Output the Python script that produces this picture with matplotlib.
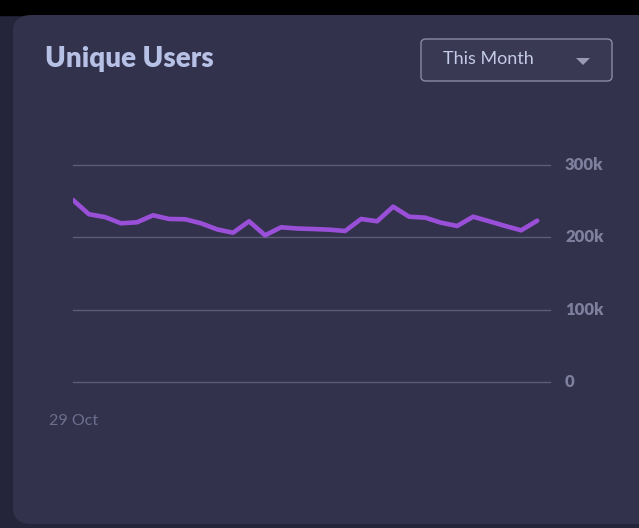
import numpy as np
import matplotlib.pyplot as plt
from matplotlib.patches import FancyBboxPatch, Polygon

# daily unique users, starting 29 Oct
users = [251.6, 231.9, 228.0, 219.4, 220.8, 230.5, 225.4, 225.0, 219.4, 211.0,
         206.4, 222.2, 202.8, 213.9, 212.2, 211.5, 210.6, 208.8, 225.4, 222.2,
         242.4, 228.5, 227.2, 220.2, 215.7, 228.5, 222.2, 215.7, 209.7, 223.0]
users = [u * 1000 for u in users]
y_ticks = [0, 100000, 200000, 300000]
y_labels = ['0', '100k', '200k', '300k']
first_day = '29 Oct'

W, H = 639, 528
fig = plt.figure(figsize=(W / 100, H / 100), dpi=100)
fig.patch.set_facecolor('#24243a')

def fx(px):
	return px / W

def fy(py):
	return 1 - py / H

# top black strip
fig.patches.append(plt.Rectangle((0, fy(15)), 1, 1, transform=fig.transFigure,
	color='#000000', zorder=0))

# card
card = FancyBboxPatch((fx(13), fy(524)), fx(700), fy(15) - fy(524),
	boxstyle='round,pad=0,rounding_size=0.03', transform=fig.transFigure,
	facecolor='#32324c', edgecolor='none', zorder=1)
fig.patches.append(card)

fig.text(fx(45), fy(59), 'Unique Users', fontsize=20, fontweight='heavy',
	family='Lato', color='#b7c1e6', va='center', ha='left', zorder=3)

# dropdown
box = FancyBboxPatch((fx(421), fy(81)), fx(191), fy(39) - fy(81),
	boxstyle='round,pad=0,rounding_size=0.008', transform=fig.transFigure,
	facecolor='#393954', edgecolor='#8a8aa6', linewidth=1.0, zorder=2)
fig.patches.append(box)
fig.text(fx(443), fy(59), 'This Month', fontsize=13, family='Lato',
	color='#c3cbe6', va='center', ha='left', zorder=3)
tri = Polygon([[fx(576), fy(58)], [fx(590), fy(58)], [fx(583), fy(65)]],
	closed=True, transform=fig.transFigure, facecolor='#9a9ab4',
	edgecolor='none', zorder=3)
fig.patches.append(tri)

ax = fig.add_axes([fx(73), fy(382), fx(550) - fx(73), fy(165) - fy(382)])
ax.set_facecolor('none')
ax.set_zorder(2)
x = np.arange(len(users))
ax.plot(x, users, color='#9a4fd8', linewidth=3.3, solid_joinstyle='round',
	solid_capstyle='round', zorder=3)
for t in y_ticks:
	ax.axhline(t, color='#5b5b78', linewidth=1.0, zorder=1, clip_on=False)
ax.set_xlim(0, 29.8)
ax.set_ylim(0, 300000)
for s in ax.spines.values():
	s.set_visible(False)
ax.set_xticks([])
ax.set_yticks([])
for t, lab in zip(y_ticks, y_labels):
	ax.annotate(lab, xy=(1, t), xycoords=('axes fraction', 'data'),
		xytext=(15, 0), textcoords='offset pixels', fontsize=12,
		fontweight='heavy', family='Lato', color='#7f7f9e', va='center',
		ha='left')

fig.text(fx(49), fy(421), first_day, fontsize=11.5, family='Lato',
	color='#6e6e8e', va='center', ha='left', zorder=3)

fig.savefig('out.png', dpi=100, facecolor=fig.get_facecolor())
